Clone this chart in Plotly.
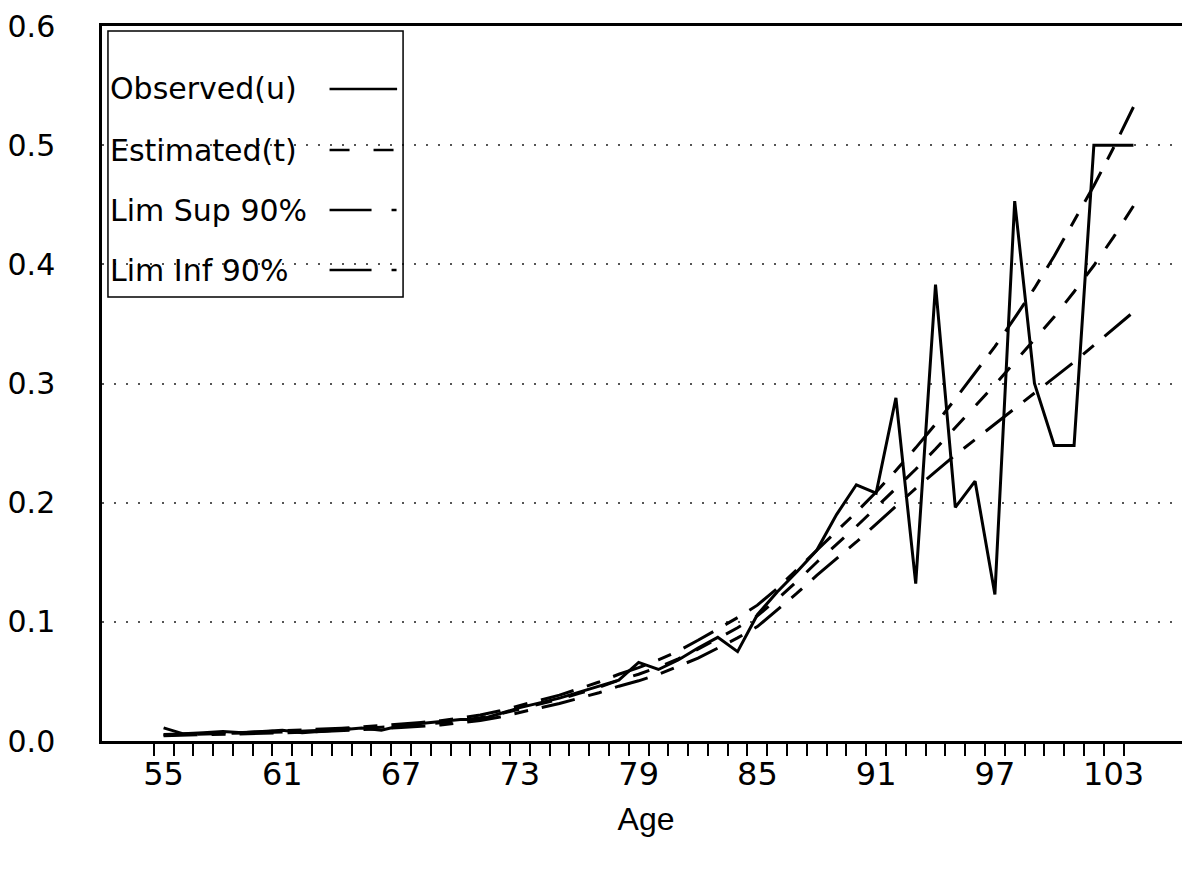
import plotly.graph_objects as go

# ---------------- data ----------------
ages = list(range(55, 105))

observed = [
    0.011, 0.006, 0.007, 0.008, 0.007, 0.008, 0.009, 0.007, 0.008, 0.0095,   # 55-64
    0.011, 0.009, 0.013, 0.0145, 0.016, 0.018, 0.018, 0.023, 0.028, 0.032,   # 65-74
    0.036, 0.041, 0.046, 0.051, 0.066, 0.060, 0.068, 0.078, 0.087, 0.075,    # 75-84
    0.106, 0.125, 0.142, 0.160, 0.190, 0.215, 0.208, 0.288, 0.132, 0.383,    # 85-94
    0.196, 0.218, 0.123, 0.453, 0.300, 0.248, 0.248, 0.500, 0.500, 0.500,    # 95-104
]

estimated = [
    0.0050, 0.0053, 0.0057, 0.0061, 0.0066, 0.0071, 0.0076, 0.0082, 0.0089, 0.0097,
    0.0106, 0.0116, 0.0127, 0.0139, 0.0153, 0.0172, 0.0195, 0.0228, 0.0268, 0.0310,
    0.0350, 0.0400, 0.0450, 0.0510, 0.0560, 0.0620, 0.0690, 0.0770, 0.0860, 0.0950,
    0.105, 0.119, 0.134, 0.150, 0.165, 0.180, 0.196, 0.212, 0.228, 0.245,
    0.263, 0.281, 0.299, 0.318, 0.337, 0.356, 0.377, 0.399, 0.423, 0.449,
]

lim_sup = [
    0.0055, 0.0058, 0.0062, 0.0067, 0.0072, 0.0078, 0.0084, 0.0091, 0.0099, 0.0108,
    0.0118, 0.0129, 0.0141, 0.0155, 0.0171, 0.0192, 0.0218, 0.0254, 0.0297, 0.0340,
    0.0385, 0.0440, 0.0495, 0.0560, 0.0615, 0.0680, 0.0755, 0.0845, 0.0940, 0.1035,
    0.114, 0.128, 0.144, 0.160, 0.176, 0.192, 0.209, 0.227, 0.246, 0.266,
    0.287, 0.309, 0.331, 0.355, 0.380, 0.407, 0.436, 0.466, 0.498, 0.532,
]

lim_inf = [
    0.0045, 0.0048, 0.0052, 0.0055, 0.0060, 0.0064, 0.0068, 0.0073, 0.0079, 0.0086,
    0.0094, 0.0103, 0.0113, 0.0123, 0.0135, 0.0152, 0.0172, 0.0202, 0.0239, 0.0280,
    0.0315, 0.0360, 0.0405, 0.0460, 0.0505, 0.0560, 0.0625, 0.0695, 0.0780, 0.0865,
    0.096, 0.110, 0.124, 0.139, 0.153, 0.167, 0.182, 0.197, 0.212, 0.226,
    0.240, 0.253, 0.266, 0.279, 0.292, 0.305, 0.318, 0.332, 0.346, 0.360,
]

x_tick_values = [55, 61, 67, 73, 79, 85, 91, 97, 103]
x_minor_ticks = [a - 0.5 for a in ages]
y_tick_values = [0.0, 0.1, 0.2, 0.3, 0.4, 0.5, 0.6]
y_tick_labels = ["0.0", "0.1", "0.2", "0.3", "0.4", "0.5", "0.6"]

legend_labels = ["Observed(u)", "Estimated(t)", "Lim Sup 90%", "Lim Inf 90%"]

# ---------------- layout geometry (page has an 8px body margin) ----------------
OFF = 8
W, H = 1190 - OFF, 878 - OFF
ML, MR, MT, MB = 95 - OFF, 0, 26 - OFF, 137
PW, PH = W - ML - MR, H - MT - MB   # 1095 x 715
FONT = "DejaVu Sans"

def pxx(px):
    return (px - 95) / PW

def pxy(py):
    return (741 - py) / PH

DASH_EST = "17px,17px"
DASH_LIM = "34px,14px,14px,14px"
LW = 3

fig = go.Figure()
fig.add_trace(go.Scatter(x=ages, y=lim_sup, mode="lines", name=legend_labels[2],
                         line=dict(color="black", width=LW, dash=DASH_LIM)))
fig.add_trace(go.Scatter(x=ages, y=lim_inf, mode="lines", name=legend_labels[3],
                         line=dict(color="black", width=LW, dash=DASH_LIM)))
fig.add_trace(go.Scatter(x=ages, y=estimated, mode="lines", name=legend_labels[1],
                         line=dict(color="black", width=LW, dash=DASH_EST)))
fig.add_trace(go.Scatter(x=ages, y=observed, mode="lines", name=legend_labels[0],
                         line=dict(color="black", width=LW)))

fig.update_layout(
    width=W, height=H,
    margin=dict(l=ML, r=MR, t=MT, b=MB),
    paper_bgcolor="white", plot_bgcolor="white",
    showlegend=False,
    font=dict(family=FONT, color="black"),
)

fig.update_xaxes(
    range=[55 - 62 / 19.92, 55 + 1033 / 19.92],
    tickmode="array", tickvals=x_tick_values, ticktext=[str(v) for v in x_tick_values],
    ticks="outside", ticklen=3, tickcolor="rgba(0,0,0,0)",
    tickfont=dict(size=32, family=FONT, color="black"),
    showline=True, linecolor="black", linewidth=2.5, mirror=True,
    showgrid=False, zeroline=False,
    minor=dict(tickmode="array", tickvals=x_minor_ticks, ticks="outside",
               ticklen=12, tickwidth=1.5, tickcolor="black", showgrid=False),
    title=dict(text="Age", font=dict(size=32, family="Liberation Sans", color="black"), standoff=16),
)

fig.update_yaxes(
    range=[0, 0.6],
    tickmode="array", tickvals=y_tick_values, ticktext=y_tick_labels,
    ticks="", ticklabelstandoff=38,
    tickfont=dict(size=30, family=FONT, color="black"),
    showline=True, linecolor="black", linewidth=2.5, mirror=False,
    showgrid=True, gridcolor="#555555", griddash="2px,10px", gridwidth=1.5,
    zeroline=False,
)

# ---------------- custom legend (text left, line sample right) ----------------
shapes = [
    dict(type="rect", xref="paper", yref="paper",
         x0=pxx(101), x1=pxx(398), y0=pxy(297), y1=pxy(31),
         line=dict(color="black", width=1.5), fillcolor="rgba(0,0,0,0)", layer="above"),
]
rows_y = [89, 150, 210, 270]
sample_dash = ["solid", "20px,24px", "42px,20px,5px,20px", "42px,20px,5px,20px"]
annotations = []
for lab, ry, dsh in zip(legend_labels, rows_y, sample_dash):
    annotations.append(dict(xref="paper", yref="paper", x=pxx(101), y=pxy(ry),
                            text=lab, showarrow=False, xanchor="left", yanchor="middle",
                            font=dict(size=30, family=FONT, color="black")))
    shapes.append(dict(type="line", xref="paper", yref="paper",
                       x0=pxx(324), x1=pxx(392), y0=pxy(ry), y1=pxy(ry),
                       line=dict(color="black", width=2.5, dash=dsh)))

fig.update_layout(shapes=shapes, annotations=annotations)

fig.write_html("out.html")
